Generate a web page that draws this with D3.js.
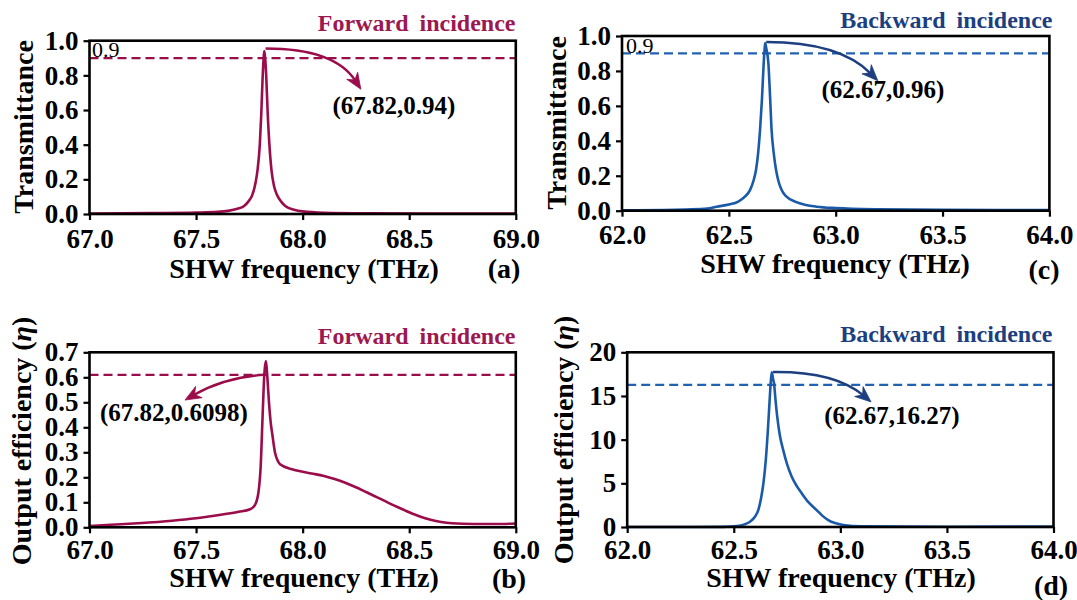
<!DOCTYPE html>
<html>
<head>
<meta charset="utf-8">
<script src="https://cdn.jsdelivr.net/npm/d3@7"></script>
<style>
  body { margin: 0; background: #fff; }
  svg { display: block; }
  text { font-family: 'Liberation Serif', 'Times New Roman', serif; font-weight: bold; }
</style>
</head>
<body>
<svg id="fig" width="1077" height="600"></svg>
<script>
// ---- Transmittance, forward incidence (SHW frequency in THz) ----
const freqFwdT = [67.0, 67.3, 67.5, 67.6, 67.65, 67.694, 67.724, 67.744, 67.764, 67.779, 67.789, 67.799,
  67.806, 67.812, 67.817, 67.82, 67.824, 67.829, 67.836, 67.844, 67.854, 67.866, 67.88, 67.9, 67.92,
  67.96, 68.0, 68.1, 68.3, 68.6, 69.0];
const transFwd = [0.003, 0.005, 0.008, 0.012, 0.018, 0.03, 0.045, 0.07, 0.11, 0.18, 0.26, 0.40,
  0.58, 0.78, 0.90, 0.94, 0.90, 0.80, 0.58, 0.40, 0.25, 0.16, 0.11, 0.07, 0.045,
  0.025, 0.015, 0.007, 0.004, 0.003, 0.003];

// ---- Transmittance, backward incidence ----
const freqBwdT = [62.0, 62.2, 62.3, 62.4, 62.443, 62.5, 62.544, 62.575, 62.599, 62.615, 62.627, 62.637,
  62.646, 62.655, 62.663, 62.667, 62.67, 62.675, 62.685, 62.693, 62.70, 62.71, 62.721, 62.732, 62.747,
  62.77, 62.81, 62.86, 62.911, 63.0, 63.2, 63.5, 64.0];
const transBwd = [0.002, 0.004, 0.007, 0.012, 0.023, 0.035, 0.052, 0.08, 0.118, 0.17, 0.233, 0.33,
  0.462, 0.64, 0.844, 0.92, 0.96, 0.93, 0.844, 0.65, 0.462, 0.33, 0.233, 0.17, 0.118,
  0.08, 0.052, 0.033, 0.023, 0.015, 0.008, 0.005, 0.004];

// ---- Output efficiency, forward incidence ----
const freqFwdE = [67.0, 67.1, 67.226, 67.388, 67.5, 67.63, 67.7, 67.753, 67.776, 67.792, 67.803, 67.812,
  67.82, 67.827, 67.831, 67.836, 67.842, 67.85, 67.858, 67.87, 67.882, 67.894, 67.95, 68.0, 68.05,
  68.1, 68.15, 68.2, 68.25, 68.3, 68.35, 68.4, 68.45, 68.5, 68.55, 68.6, 68.65, 68.7, 68.8, 68.9, 69.0];
const effFwd = [0.005, 0.01, 0.016, 0.026, 0.036, 0.052, 0.062, 0.072, 0.089, 0.136, 0.242, 0.442,
  0.6098, 0.665, 0.64, 0.58, 0.50, 0.42, 0.37, 0.30, 0.268, 0.252, 0.232, 0.222, 0.214,
  0.205, 0.193, 0.178, 0.16, 0.14, 0.12, 0.099, 0.079, 0.06, 0.043, 0.03, 0.021, 0.016, 0.013, 0.013, 0.015];

// ---- Output efficiency, backward incidence ----
const freqBwdE = [62.0, 62.3, 62.45, 62.514, 62.55, 62.576, 62.6, 62.615, 62.628, 62.639, 62.65, 62.659,
  62.667, 62.673, 62.678, 62.684, 62.689, 62.696, 62.704, 62.716, 62.732, 62.75, 62.772, 62.795,
  62.819, 62.85, 62.889, 62.915, 62.943, 62.975, 63.014, 63.1, 63.5, 64.0];
const effBwd = [0, 0, 0.02, 0.11, 0.3, 0.61, 1.2, 1.94, 3.3, 5.0, 7.6, 10.7,
  14.0, 16.4, 17.7, 17.0, 16.4, 14.5, 12.6, 10.5, 8.8, 7.2, 5.75, 4.7,
  3.85, 2.85, 1.94, 1.3, 0.8, 0.45, 0.23, 0.07, 0.03, 0.06];

// ---- Axis ticks ----
const xTicksFwd = [67.0, 67.5, 68.0, 68.5, 69.0];
const xTicksBwd = [62.0, 62.5, 63.0, 63.5, 64.0];
const yTicksTrans = [0.0, 0.2, 0.4, 0.6, 0.8, 1.0];
const yTicksEffFwd = [0.0, 0.1, 0.2, 0.3, 0.4, 0.5, 0.6, 0.7];
const yTicksEffBwd = [0, 5, 10, 15, 20];

// ---- Reference levels and marked points ----
const levelTransFwd = 0.9, levelTransBwd = 0.9, levelEffFwd = 0.6098, levelEffBwd = 16.27;
const pointTransFwd = [67.82, 0.94];
const pointTransBwd = [62.67, 0.96];
const pointEffFwd = [67.82, 0.6098];
const pointEffBwd = [62.67, 16.27];

const crimson = '#9b0c4b', crimsonText = '#9c1850';
const blueLine = '#1b5aa8', blueDash = '#2262b2', navy = '#1d3f80';

const svg = d3.select('#fig');

const panels = [
  { xs: freqFwdT, ys: transFwd, xDom: [67, 69], yDom: [0, 1], xTicks: xTicksFwd, yTicks: yTicksTrans, yFmt: '.1f',
    box: { l: 89.5, r: 515.8, t: 40.7, b: 214 }, color: crimson, dash: crimson, accent: crimson, titleColor: crimsonText,
    level: levelTransFwd, levelText: '0.9', levelTextPos: [92, 57],
    title: 'Forward incidence', titlePos: [515.5, 31],
    arrow: { from: [67.826, 0.955], ctrl: [68.15, 0.955], to: [68.273, 0.72] },
    point: pointTransFwd, pointFmt: d3.format('.2f'), labelPos: [394, 114],
    yTitle: 'Transmittance', yTitlePos: [33, 127], xTitlePos: [304, 278], tag: '(a)', tagPos: [504, 278], xTickPad: 9 },
  { xs: freqBwdT, ys: transBwd, xDom: [62, 64], yDom: [0, 1], xTicks: xTicksBwd, yTicks: yTicksTrans, yFmt: '.1f',
    box: { l: 622, r: 1049.4, t: 36, b: 210.7 }, color: blueLine, dash: blueDash, accent: navy, titleColor: navy,
    level: levelTransBwd, levelText: '0.9', levelTextPos: [626, 53],
    title: 'Backward incidence', titlePos: [1052.5, 28],
    arrow: { from: [62.675, 0.966], ctrl: [63.02, 0.966], to: [63.197, 0.744] },
    point: pointTransBwd, pointFmt: d3.format('.2f'), labelPos: [883, 98],
    yTitle: 'Transmittance', yTitlePos: [566, 123], xTitlePos: [835, 273], tag: '(c)', tagPos: [1044, 279], xTickPad: 8 },
  { xs: freqFwdE, ys: effFwd, xDom: [67, 69], yDom: [0, 0.7], xTicks: xTicksFwd, yTicks: yTicksEffFwd, yFmt: '.1f',
    box: { l: 89.5, r: 515.8, t: 352.3, b: 527.3 }, color: crimson, dash: crimson, accent: crimson, titleColor: crimsonText,
    level: levelEffFwd, levelText: null,
    title: 'Forward incidence', titlePos: [515.5, 344],
    arrow: { from: [67.82, 0.6098], ctrl: [67.636, 0.601], to: [67.448, 0.509] },
    point: pointEffFwd, pointFmt: d3.format('.4f'), labelPos: [174, 421],
    yTitle: 'Output efficiency', yTitlePos: [31, 441], xTitlePos: [304, 587], tag: '(b)', tagPos: [509, 588], xTickPad: 7 },
  { xs: freqBwdE, ys: effBwd, xDom: [62, 64], yDom: [0, 20], xTicks: xTicksBwd, yTicks: yTicksEffBwd, yFmt: 'd',
    box: { l: 627.2, r: 1053.5, t: 352.3, b: 527 }, color: blueLine, dash: blueDash, accent: navy, titleColor: navy,
    level: levelEffBwd, levelText: null,
    title: 'Backward incidence', titlePos: [1052.5, 342],
    arrow: { from: [62.684, 17.75], ctrl: [62.975, 17.83], to: [63.144, 14.32] },
    point: pointEffBwd, pointFmt: d3.format('.2f'), labelPos: [892, 424],
    yTitle: 'Output efficiency', yTitlePos: [573, 440], xTitlePos: [841, 587], tag: '(d)', tagPos: [1051, 595], xTickPad: 7 }
];

function arrowHead(g, tip, back, color) {
  // slender head with a notched base, pointing from "back" toward "tip"
  const dx = tip[0] - back[0], dy = tip[1] - back[1];
  const len = Math.hypot(dx, dy);
  const ux = dx / len, uy = dy / len, nx = -uy, ny = ux;
  const L = 16, W = 6.5, notch = 11;
  const bx = tip[0] - ux * L, by = tip[1] - uy * L;
  const p = [
    tip,
    [bx + nx * W, by + ny * W],
    [tip[0] - ux * notch, tip[1] - uy * notch],
    [bx - nx * W, by - ny * W]
  ];
  g.append('path').attr('d', 'M' + p.map(q => q.join(',')).join('L') + 'Z')
    .attr('fill', color).attr('stroke', color).attr('stroke-width', 0.8).attr('stroke-linejoin', 'miter');
}

panels.forEach(p => {
  const x = d3.scaleLinear().domain(p.xDom).range([p.box.l, p.box.r]);
  const y = d3.scaleLinear().domain(p.yDom).range([p.box.b, p.box.t]);
  const g = svg.append('g');

  // reference level
  g.append('line')
    .attr('x1', p.box.l).attr('x2', p.box.r)
    .attr('y1', y(p.level)).attr('y2', y(p.level))
    .attr('stroke', p.dash).attr('stroke-width', 2.2).attr('stroke-dasharray', '9,5');

  // spectrum curve
  const line = d3.line()
    .x(i => x(p.xs[i])).y(i => y(p.ys[i]))
    .curve(d3.curveMonotoneX);
  g.append('path').datum(d3.range(p.xs.length))
    .attr('d', line).attr('fill', 'none')
    .attr('stroke', p.color).attr('stroke-width', 2.6).attr('stroke-linejoin', 'round');

  // frame
  g.append('rect')
    .attr('x', p.box.l).attr('y', p.box.t)
    .attr('width', p.box.r - p.box.l).attr('height', p.box.b - p.box.t)
    .attr('fill', 'none').attr('stroke', '#000').attr('stroke-width', 2.6);

  // axes
  const xa = g.append('g').attr('transform', `translate(0,${p.box.b})`)
    .call(d3.axisBottom(x).tickValues(p.xTicks).tickFormat(d3.format('.1f')).tickSize(6).tickPadding(p.xTickPad));
  const ya = g.append('g').attr('transform', `translate(${p.box.l},0)`)
    .call(d3.axisLeft(y).tickValues(p.yTicks).tickFormat(d3.format(p.yFmt)).tickSize(6).tickPadding(5));
  [xa, ya].forEach(a => {
    a.attr('font-family', null).attr('font-size', null);
    a.select('.domain').remove();
    a.selectAll('line').attr('stroke', '#000').attr('stroke-width', 2.2);
    a.selectAll('text').attr('fill', '#000').style('font-size', '27px');
  });

  // level value text
  if (p.levelText) {
    g.append('text').attr('x', p.levelTextPos[0]).attr('y', p.levelTextPos[1])
      .style('font-size', '22px').style('font-weight', 'normal').attr('fill', '#000').text(p.levelText);
  }

  // curved arrow to the marked point's label
  const a0 = [x(p.arrow.from[0]), y(p.arrow.from[1])];
  const ac = [x(p.arrow.ctrl[0]), y(p.arrow.ctrl[1])];
  const a1 = [x(p.arrow.to[0]), y(p.arrow.to[1])];
  const ux = a1[0] - ac[0], uy = a1[1] - ac[1], ul = Math.hypot(ux, uy);
  const stop = [a1[0] - ux / ul * 10, a1[1] - uy / ul * 10];
  g.append('path')
    .attr('d', `M${a0[0]},${a0[1]}Q${ac[0]},${ac[1]} ${stop[0]},${stop[1]}`)
    .attr('fill', 'none').attr('stroke', p.accent).attr('stroke-width', 2.4);
  arrowHead(g, a1, ac, p.accent);

  g.append('text').attr('x', p.labelPos[0]).attr('y', p.labelPos[1])
    .attr('text-anchor', 'middle').style('font-size', '25px').attr('fill', '#000')
    .text(`(${p.point[0].toFixed(2)},${p.pointFmt(p.point[1])})`);

  // panel title
  g.append('text').attr('x', p.titlePos[0]).attr('y', p.titlePos[1])
    .attr('text-anchor', 'end').style('font-size', '24px').style('word-spacing', '5px')
    .attr('fill', p.titleColor).text(p.title);

  // axis titles
  g.append('text').attr('x', p.xTitlePos[0]).attr('y', p.xTitlePos[1])
    .attr('text-anchor', 'middle').style('font-size', '28px').attr('fill', '#000')
    .text('SHW frequency (THz)');
  g.append('text').attr('x', p.tagPos[0]).attr('y', p.tagPos[1])
    .attr('text-anchor', 'middle').style('font-size', '28px').attr('fill', '#000').text(p.tag);

  const yt = g.append('text')
    .attr('transform', `translate(${p.yTitlePos[0]},${p.yTitlePos[1]}) rotate(-90)`)
    .attr('text-anchor', 'middle').style('font-size', '28px').attr('fill', '#000');
  yt.append('tspan').text(p.yTitle);
  if (p.yTitle === 'Output efficiency') {
    yt.append('tspan').text(' (');
    yt.append('tspan').style('font-style', 'italic').text('η');
    yt.append('tspan').text(')');
  }
});
</script>
</body>
</html>
